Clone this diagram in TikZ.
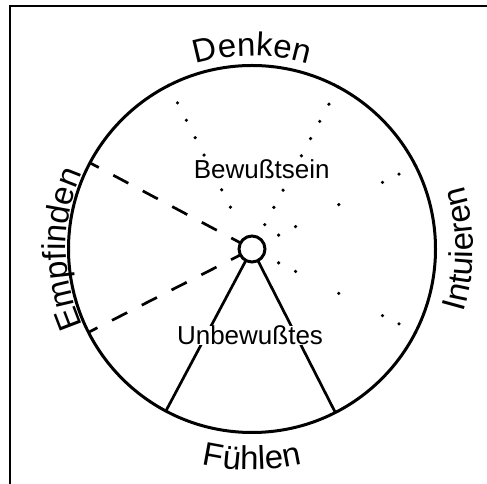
\documentclass[tikz,border=0pt]{standalone}
\usepackage{fontspec}
\setmainfont{Liberation Sans}
\usetikzlibrary{decorations.text}
\begin{document}
\begin{tikzpicture}[x=1pt,y=1pt,
  ring/.style={circle, draw, line width=3pt, inner sep=0pt, outer sep=0pt},
  solidline/.style={line width=2.7pt},
  dashline/.style={line width=2.7pt, dash pattern=on 17pt off 16.4pt, dash phase=7pt},
  dotline/.style={line width=3.6pt, line cap=round, dash pattern=on 0pt off 19.5pt},
  dotlineb/.style={line width=3.6pt, line cap=round, dash pattern=on 0pt off 18.5pt on 0pt off 18.5pt on 0pt off 49pt on 0pt off 48.5pt on 0pt off 19pt},
  innerlabel/.style={fill=white, inner sep=0pt, font=\fontsize{26}{30}\selectfont, anchor=base},
  arclabel/.style={decorate, decoration={text along path, text align=center, text={|\fontsize{33}{40}\selectfont|#1}}}
]
\useasboundingbox (0,0) rectangle (487,484);
\draw[line width=2.4pt] (10,0) -- (10,478) -- (487,478);
\coordinate (c) at (252,235);
\node[ring, minimum size=367pt] (big) at (c) {};
\node[ring, minimum size=26pt] (hub) at (c) {};
% dashed lines (left)
\draw[dashline] (big.152.5) -- (hub.152.5);
\draw[dashline] (big.207.5) -- (hub.207.5);
% dotted lines (top)
\path (c) ++(62.5:27.5) coordinate (d1);
\path (c) ++(117.5:27.5) coordinate (d2);
\draw[dotline] (big.62.5) -- (d1);
\draw[dotline] (big.117.5) -- (d2);
% dotted lines (right)
\path (c) ++(27.5:29) coordinate (e1);
\path (c) ++(-27.5:29) coordinate (e2);
\draw[dotlineb] (big.27.5) -- (e1);
\draw[dotlineb] (big.-27.5) -- (e2);
% solid lines (bottom)
\draw[solidline] (hub.242.5) -- (big.242.5);
\draw[solidline] (hub.297.5) -- (big.297.5);
% inner labels
\node[innerlabel] (bw) at (261.7,305.7) {Bewußtsein};
\node[innerlabel] (ub) at (250,139) {Unbewußtes};
% outer labels
\path[arclabel=Denken] (c) ++(135:193) arc[start angle=135, end angle=45, radius=193];
\path[arclabel=Empfinden] (c) ++(225:186) arc[start angle=225, end angle=135, radius=186];
\path[arclabel=Intuieren] (c) ++(-45:221) arc[start angle=-45, end angle=45, radius=221];
\path[arclabel=Fühlen] (c) ++(225:221) arc[start angle=225, end angle=315, radius=221];
\end{tikzpicture}
\end{document}
